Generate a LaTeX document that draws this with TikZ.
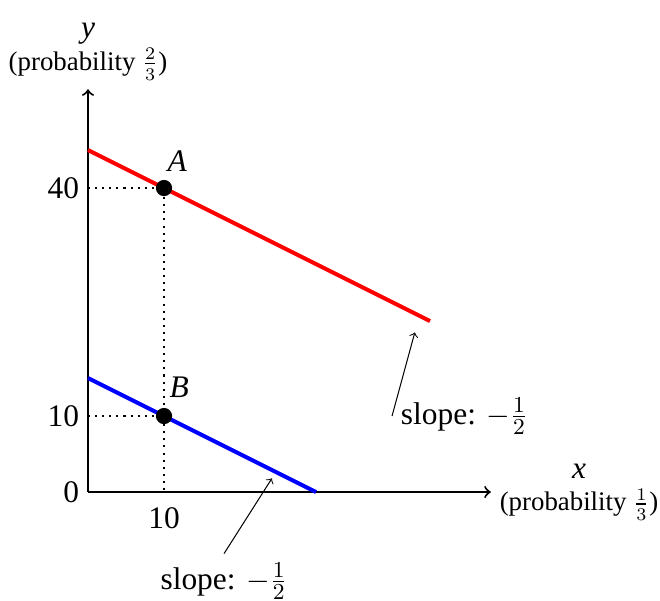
\documentclass[tikz,border=0pt]{standalone}
\usepackage{fontspec}
\setmainfont{Liberation Serif}
\usepackage{tikz}
\definecolor{highline}{RGB}{255, 0, 0}
\definecolor{lowline}{RGB}{0, 0, 255}
\newcommand{\probfont}{\fontsize{10.6}{12}\selectfont}

\begin{document}
\begin{tikzpicture}[x=3pt, y=3pt, font=\fontsize{12.4}{13}\selectfont,
		dot/.style={circle, fill=black, inner sep=0pt, minimum size=6.4pt},
		guide/.style={thick, dotted}]
			\def\xmax{53}
			\def\ymax{53}
			\useasboundingbox (-11.58, -14.21) rectangle (75.26, 64.74);
			
			% axes
			\coordinate (O) at (0, 0);
			\coordinate (xend) at (\xmax, 0);
			\coordinate (yend) at (0, \ymax);
			\draw[thick, ->] (O) -- (xend);
			\draw[thick, ->] (O) -- (yend);
			\node[above, align=center] (ylab) at (yend) {\textit{y}\\\probfont(probability $\frac{2}{3}$)};
			\node[right, align=center] (xlab) at (xend) {\textit{x}\\\probfont(probability $\frac{1}{3}$)};
			
			% budget lines
			\draw[highline, ultra thick] (0, 45) -- (45, 22.5);
			\draw[lowline, ultra thick] (0, 15) -- (30, 0);
			
			% points A and B
			\draw[guide] (0, 40) -- (10, 40) -- (10, 0);
			\draw[guide] (0, 10) -- (10, 10);
			\node[dot] (A) at (10, 40) {};
			\node[dot] (B) at (10, 10) {};
			\node[anchor=base west, inner sep=0pt] (labA) at ([shift={(1.2pt, 6.7pt)}]A.center) {\textit{A}};
			\node[anchor=base west, inner sep=0pt] (labB) at ([shift={(2pt, 7.5pt)}]B.center) {\textit{B}};
			
			% ticks
			\node[left] (t40) at (0, 40) {40};
			\node[left] (t10) at (0, 10) {10};
			\node[left] (t0) at (O) {0};
			\node[below=2.8pt] (tx10) at (10, 0) {10};
			
			% slopes
			\coordinate (tipA) at (43, 21);
			\coordinate (tipB) at (24.2, 1.8);
			\node[anchor=west] (slopeA) at (40, 10) {slope: $-\frac{1}{2}$};
			\node[anchor=north] (slopeB) at (17.9, -8.1) {slope: $-\frac{1}{2}$};
			\draw[->] (slopeA.west) -- (tipA);
			\draw[->] (slopeB.north) -- (tipB);
			
\end{tikzpicture}
\end{document}
